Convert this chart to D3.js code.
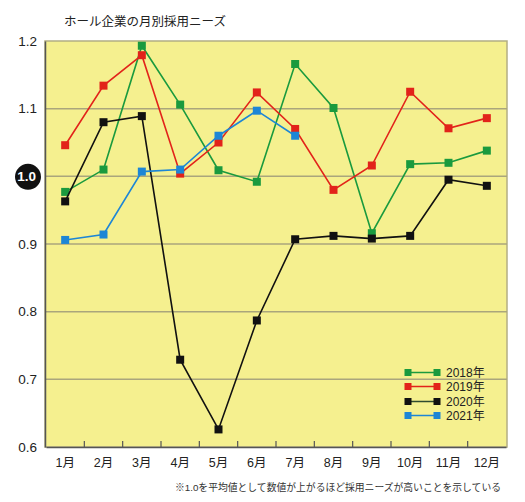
<!DOCTYPE html>
<html>
<head>
<meta charset="utf-8">
<script src="https://cdn.jsdelivr.net/npm/d3@7"></script>
<style>
  body { margin: 0; background: #fff; }
  text { font-family: "Liberation Sans", "Noto Sans CJK JP", sans-serif; }
</style>
</head>
<body>
<div class="canvas"></div>
<script>
const months = ['1月','2月','3月','4月','5月','6月','7月','8月','9月','10月','11月','12月'];
const yTicks = [0.6, 0.7, 0.8, 0.9, 1.0, 1.1, 1.2];

const y2018 = [0.977, 1.010, 1.193, 1.106, 1.009, 0.992, 1.166, 1.101, 0.916, 1.018, 1.020, 1.038];
const y2019 = [1.046, 1.134, 1.179, 1.004, 1.050, 1.124, 1.070, 0.980, 1.016, 1.125, 1.071, 1.086];
const y2020 = [0.963, 1.080, 1.089, 0.729, 0.626, 0.787, 0.907, 0.912, 0.908, 0.912, 0.995, 0.986];
const y2021 = [0.906, 0.914, 1.007, 1.010, 1.060, 1.097, 1.060];

const seriesNames = ['2018年', '2019年', '2020年', '2021年'];
const seriesColors = ['#1a9a3e', '#e2231a', '#111111', '#1d86d6'];
const legendLineColors = ['#1a9a3e', '#e2231a', '#2f4a2f', '#1d86d6'];

const dims = {width: 525, height: 502};
const plot = {left: 45, right: 507, top: 41, bottom: 447};

const svg = d3.select('.canvas')
.append('svg')
.attr('width', dims.width)
.attr('height', dims.height);

const x = d3.scaleBand()
.domain(months)
.range([plot.left + 1, plot.right - 1]);

const y = d3.scaleLinear()
.domain([0.6, 1.2])
.range([plot.bottom, plot.top]);

// background
svg.append('rect')
.attr('x', plot.left)
.attr('y', plot.top)
.attr('width', plot.right - plot.left)
.attr('height', plot.bottom - plot.top)
.attr('fill', '#f5f08f')
.attr('stroke', '#b3ae84')
.attr('stroke-width', 1.5);

// gridlines
svg.append('g')
.selectAll('line')
.data(yTicks.filter(d => d > 0.6 && d < 1.2))
.enter()
.append('line')
.attr('x1', plot.left)
.attr('x2', plot.right)
.attr('y1', d => y(d))
.attr('y2', d => y(d))
.attr('stroke', '#aaa67c')
.attr('stroke-width', 1.5);

// y axis
const yAxis = d3.axisLeft(y)
.tickValues(yTicks)
.tickSize(0)
.tickPadding(8)
.tickFormat(d3.format('.1f'));

const yg = svg.append('g')
.attr('transform', `translate(${plot.left}, 0)`)
.call(yAxis);
yg.select('.domain').attr('stroke', '#555').attr('stroke-width', 1.5);
yg.selectAll('text')
.attr('font-size', 13.5)
.attr('fill', d => d === 1.0 ? '#fff' : '#222')
.attr('font-weight', d => d === 1.0 ? 'bold' : 'normal')
.attr('dx', d => d === 1.0 ? -1 : 0);
yg.selectAll('.tick')
.filter(d => d === 1.0)
.insert('circle', 'text')
.attr('cx', -17)
.attr('cy', 0)
.attr('r', 13)
.attr('fill', '#111');

// x axis
const xAxis = d3.axisBottom(x).tickSize(0).tickPadding(11);
const xg = svg.append('g')
.attr('transform', `translate(0, ${plot.bottom})`)
.call(xAxis);
xg.select('.domain').attr('stroke', '#555').attr('stroke-width', 1.5);
xg.selectAll('text').attr('font-size', 12.5).attr('fill', '#222');

// small ticks between months
xg.selectAll('.sep')
.data(months.slice(1))
.enter()
.append('line')
.attr('x1', d => x(d))
.attr('x2', d => x(d))
.attr('y1', 0)
.attr('y2', -6)
.attr('stroke', '#555')
.attr('stroke-width', 1.2);

// lines and markers
const allSeries = [y2018, y2019, y2020, y2021];
const line = d3.line()
.x((d, i) => x(months[i]) + x.bandwidth() / 2)
.y(d => y(d));

allSeries.forEach((vals, si) => {
  const g = svg.append('g');
  g.append('path')
  .attr('d', line(vals))
  .attr('fill', 'none')
  .attr('stroke', seriesColors[si])
  .attr('stroke-width', 1.6);

  g.selectAll('rect')
  .data(vals)
  .enter()
  .append('rect')
  .attr('x', (d, i) => x(months[i]) + x.bandwidth() / 2 - 4)
  .attr('y', d => y(d) - 4)
  .attr('width', 8)
  .attr('height', 8)
  .attr('fill', seriesColors[si]);
});

// legend
const legendY = [372.5, 386.5, 401.5, 415.5];
const legend = svg.append('g');
seriesNames.forEach((name, i) => {
  const lg = legend.append('g').attr('transform', `translate(408, ${legendY[i]})`);
  lg.append('line')
  .attr('x1', 0).attr('x2', 29)
  .attr('y1', 0).attr('y2', 0)
  .attr('stroke', legendLineColors[i])
  .attr('stroke-width', 1.5);
  lg.selectAll('rect')
  .data([0, 29])
  .enter()
  .append('rect')
  .attr('x', d => d - 3.5)
  .attr('y', -3.5)
  .attr('width', 7)
  .attr('height', 7)
  .attr('fill', seriesColors[i]);
  lg.append('text')
  .attr('x', 38)
  .attr('y', 4.5)
  .attr('font-size', 12)
  .attr('fill', '#222')
  .text(name);
});

// title
svg.append('text')
.attr('x', 145)
.attr('y', 26)
.attr('text-anchor', 'middle')
.attr('font-size', 12.5)
.attr('fill', '#222')
.text('ホール企業の月別採用ニーズ');

// footnote
svg.append('text')
.attr('x', 501)
.attr('y', 491)
.attr('text-anchor', 'end')
.attr('font-size', 9.8)
.attr('fill', '#333')
.text('※1.0を平均値として数値が上がるほど採用ニーズが高いことを示している');
</script>
</body>
</html>
